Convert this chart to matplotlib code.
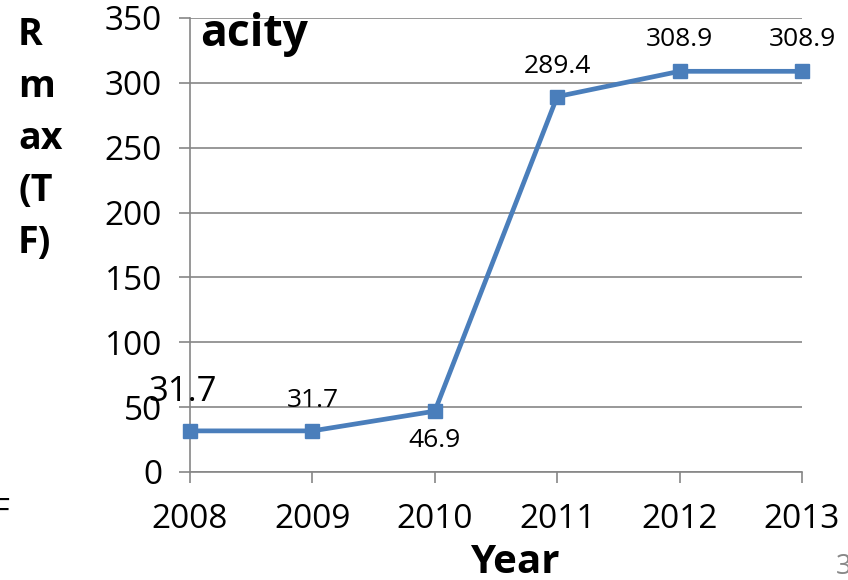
import matplotlib.pyplot as plt

plt.rcParams['font.family'] = ['Open Sans', 'DejaVu Sans']

# Rmax per year
years = [2008, 2009, 2010, 2011, 2012, 2013]
rmax = [31.7, 31.7, 46.9, 289.4, 308.9, 308.9]
yticks = [0, 50, 100, 150, 200, 250, 300, 350]

line_color = '#4a7ebb'
grid_color = '#868686'

fig = plt.figure(figsize=(8.48, 5.8), dpi=100)
ax = fig.add_axes([190 / 848, 1 - 472 / 580, 612 / 848, 454 / 580])

ax.plot(years, rmax, color=line_color, lw=3.4, marker='s', markersize=10,
        clip_on=False, zorder=3)

ax.set_xlim(years[0], years[-1])
ax.set_ylim(0, 350)
ax.set_xticks(years)
ax.set_yticks(yticks)
ax.tick_params(axis='both', labelsize=24, color=grid_color, width=1.2,
               length=8)
ax.tick_params(axis='y', pad=12)
ax.tick_params(axis='x', pad=14)
ax.yaxis.grid(True, color=grid_color, lw=1.2)
ax.set_axisbelow(True)
for side in ('top', 'right'):
    ax.spines[side].set_visible(False)
for side in ('left', 'bottom'):
    ax.spines[side].set_color(grid_color)
    ax.spines[side].set_linewidth(1.2)

# value labels: first one larger, 2010 below the point
offsets = [(-5, 28), (0, 22), (0, -21), (0, 22), (0, 23), (0, 23)]
for i, (x, y) in enumerate(zip(years, rmax)):
    ax.annotate(f'{y}', (x, y), xytext=offsets[i], textcoords='offset points',
                ha='center', va='center', fontsize=25 if i == 0 else 19,
                annotation_clip=False)

# axis titles
fig.text(515 / 848, 1 - 543 / 580, 'Year', fontsize=29, fontweight='bold',
         ha='center', va='top')
fig.text(18 / 848, 1 - 16 / 580, 'R\nm\nax\n(T\nF)', fontsize=27,
         fontweight='bold', ha='left', va='top', linespacing=1.48)

# clipped chart title
fig.text(200 / 848, 1 - 46 / 580, 'acity', fontsize=32, fontweight='bold',
         ha='left', va='baseline')

fig.text(-6 / 848, 1 - 520 / 580, 'F', fontsize=22, ha='left', va='baseline')
fig.text(836 / 848, 1 - 574 / 580, '3', fontsize=20, color='#888888',
         ha='left', va='baseline')

fig.savefig('out.png', dpi=100)
